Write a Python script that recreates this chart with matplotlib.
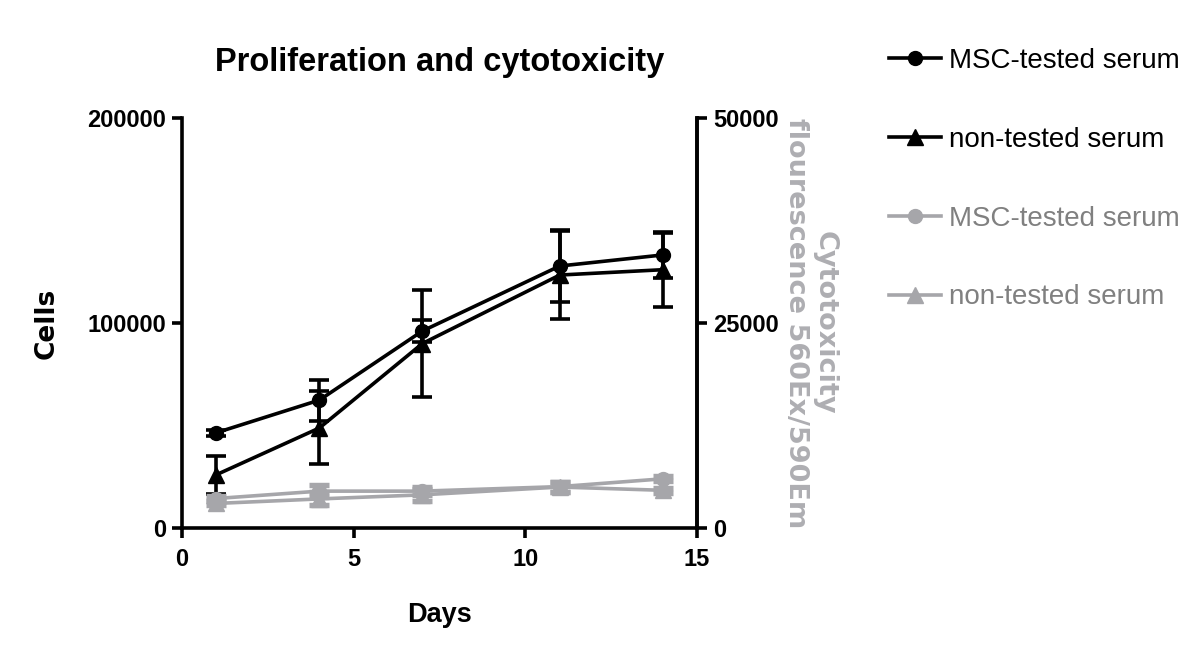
import numpy as np
import matplotlib
matplotlib.use("Agg")
import matplotlib.pyplot as plt
from matplotlib.lines import Line2D

plt.rcParams['font.family'] = ['Liberation Sans', 'DejaVu Sans']
plt.rcParams['font.weight'] = 'bold'

days = [1, 4, 7, 11, 14]

# proliferation (cells, left axis)
msc_cells = [46500, 62400, 96100, 127800, 133200]
msc_cells_err = [1500, 10000, 5400, 17400, 11000]
nt_cells = [26000, 48800, 90000, 123400, 126000]
nt_cells_err = [9300, 17800, 26000, 21600, 18000]

# cytotoxicity (fluorescence, right axis)
msc_cyto = [3600, 4500, 4500, 5050, 6000]
msc_cyto_err = [250, 700, 500, 600, 300]
nt_cyto = [3000, 3550, 4050, 5000, 4600]
nt_cyto_err = [250, 800, 700, 650, 300]

labels = ["MSC-tested serum", "non-tested serum", "MSC-tested serum", "non-tested serum"]

black = "#000000"
grey = "#a6a6aa"
grey_text = "#808080"
lw = 2.6

fig = plt.figure(figsize=(12, 6.57), dpi=100)
ax = fig.add_axes([0.1517, 0.1963, 0.4292, 0.6241])
ax2 = ax.twinx()

ax.errorbar(days, msc_cells, yerr=msc_cells_err, color=black, marker='o', ms=10,
            lw=lw, elinewidth=lw, capsize=7, capthick=lw, zorder=3)
ax.errorbar(days, nt_cells, yerr=nt_cells_err, color=black, marker='^', ms=11,
            lw=lw, elinewidth=lw, capsize=7, capthick=lw, zorder=3)
ax2.errorbar(days, msc_cyto, yerr=msc_cyto_err, color=grey, marker='o', ms=10,
             lw=lw, elinewidth=lw, capsize=7, capthick=lw * 1.5)
ax2.errorbar(days, nt_cyto, yerr=nt_cyto_err, color=grey, marker='^', ms=11,
             lw=lw, elinewidth=lw, capsize=7, capthick=lw * 1.5)

ax.set_xlim(0, 15)
ax.set_ylim(0, 200000)
ax2.set_ylim(0, 50000)
ax.set_xticks([0, 5, 10, 15])
ax.set_yticks([0, 100000, 200000])
ax2.set_yticks([0, 25000, 50000])

for a in (ax, ax2):
    a.spines['top'].set_visible(False)
    for s in a.spines.values():
        s.set_linewidth(2.6)
    a.tick_params(width=2.6, length=7.5, labelsize=17, direction='out', pad=4)
ax.tick_params(axis='x', pad=7)
ax2.spines['left'].set_visible(False)
ax2.spines['bottom'].set_visible(False)
for t in ax.get_xticklabels() + ax.get_yticklabels() + ax2.get_yticklabels():
    t.set_fontweight('bold')

ax.set_title("Proliferation and cytotoxicity", fontsize=23.5, fontweight='bold', pad=34)
ax.set_xlabel("Days", fontsize=19.5, fontweight='bold', labelpad=22)
ax.set_ylabel("Cells", fontsize=19, fontweight='bold', family=['DejaVu Sans'])
ax.yaxis.set_label_coords(-0.237, 0.5)
ax2.set_ylabel("Cytotoxicity\nflourescence 560Ex/590Em", fontsize=19.5, fontweight='bold',
               color="#aeaeb2", rotation=270, labelpad=42, family=['DejaVu Sans'],
               linespacing=1.1)

handles = [
    Line2D([], [], color=black, marker='o', ms=10, lw=lw),
    Line2D([], [], color=black, marker='^', ms=11, lw=lw),
    Line2D([], [], color=grey, marker='o', ms=10, lw=lw),
    Line2D([], [], color=grey, marker='^', ms=11, lw=lw),
]
leg = fig.legend(handles, labels, loc='upper left', bbox_to_anchor=(0.72, 0.965),
                 frameon=False, fontsize=20, labelspacing=1.9, handlelength=1.87,
                 handletextpad=0.3)
for txt, c in zip(leg.get_texts(), [black, black, grey_text, grey_text]):
    txt.set_color(c)
    txt.set_fontweight('normal')

fig.savefig("out.png", dpi=100)
